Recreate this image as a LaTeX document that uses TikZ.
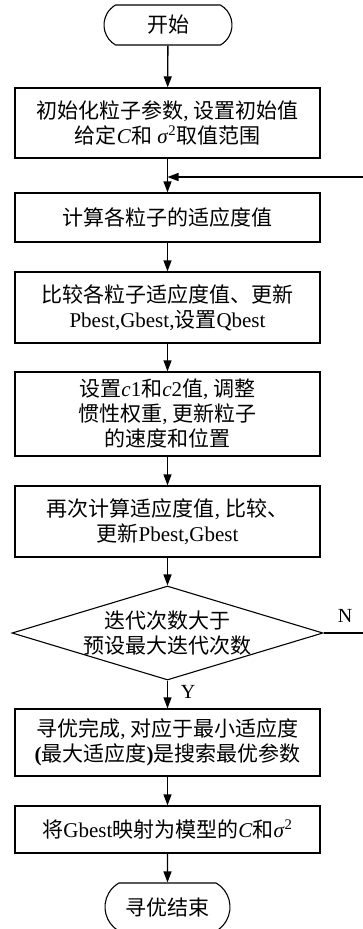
\documentclass[tikz,border=0pt]{standalone}
\usepackage{fontspec}
\setmainfont{Liberation Serif}
\newfontfamily\cjk{Noto Sans CJK SC}
\usetikzlibrary{shapes.geometric,shapes.misc,arrows.meta}
\newcommand{\zh}[1]{{\cjk #1}}
\newcommand{\sigsq}{\textit{σ}\textsuperscript{2}}
\begin{document}
\begin{tikzpicture}[x=1pt,y=-1pt,
  txt/.style={font=\fontsize{21}{25}\selectfont},
  box/.style={txt, draw, line width=1.3pt, minimum width=305pt, inner sep=0pt, align=center},
  term/.style={txt, draw, line width=1.1pt, rounded rectangle, rounded rectangle arc length=120, inner sep=0pt},
  dec/.style={draw, line width=1.1pt, diamond, inner sep=0pt, minimum width=311pt, minimum height=94pt},
  arr/.style={line width=1.3pt, -{Triangle[length=11pt,width=8pt]}},
  lbl/.style={font=\fontsize{20}{24}\selectfont}]
\useasboundingbox (0,0) rectangle (363,929);
\node[term, minimum width=128pt, minimum height=40pt] (start) at (168,25) {\zh{开始}};
\node[box, minimum height=70pt] (b1) at (167.5,123) {\zh{初始化粒子参数}, \zh{设置初始值}\\\zh{给定}\textit{C}\zh{和} \sigsq\zh{取值范围}};
\node[box, minimum height=49pt] (b2) at (167.5,217.5) {\zh{计算各粒子的适应度值}};
\node[box, minimum height=71pt] (b3) at (167.5,307.5) {\zh{比较各粒子适应度值、更新}\\Pbest,Gbest,\zh{设置}Qbest};
\node[box, minimum height=84pt] (b4) at (167.5,414) {\zh{设置}\textit{c}1\zh{和}\textit{c}2\zh{值}, \zh{调整}\\\zh{惯性权重}, \zh{更新粒子}\\\zh{的速度和位置}};
\node[box, minimum height=71pt] (b5) at (167.5,521.5) {\zh{再次计算适应度值}, \zh{比较、}\\\zh{更新}Pbest,Gbest};
\node[dec] (d) at (167.5,633) {};
\node[txt, align=center] (dt) at (d.center) {\zh{迭代次数大于}\\\zh{预设最大迭代次数}};
\node[box, minimum height=67pt] (b6) at (167.5,742.5) {\zh{寻优完成}, \zh{对应于最小适应度}\\\textbf{(}\zh{最大适应度}\textbf{)}\zh{是搜索最优参数}};
\node[box, minimum height=47pt] (b7) at (167.5,829.5) {\zh{将}Gbest\zh{映射为模型的}\textit{C}\zh{和}\sigsq};
\node[term, minimum width=125pt, minimum height=48pt] (end) at (167.5,907) {\zh{寻优结束}};
\node[lbl] (nl) at (345,616) {N};
\node[lbl] (yl) at (188,692) {Y};
\coordinate (fb) at (167.5,177);
\coordinate (nr) at (365,633);
\coordinate (nt) at (365,177);
\draw[arr] (start) -- (b1);
\draw[line width=1.3pt] (b1) -- (fb);
\draw[arr] (fb) -- (b2);
\draw[arr] (b2) -- (b3);
\draw[arr] (b3) -- (b4);
\draw[arr] (b4) -- (b5);
\draw[arr] (b5) -- (d.north);
\draw[arr] (d.south) -- (b6);
\draw[arr] (b6) -- (b7);
\draw[arr] (b7) -- (end);
\draw[arr] (d.east) -- (nr) -- (nt) -- (fb);
\end{tikzpicture}
\end{document}
